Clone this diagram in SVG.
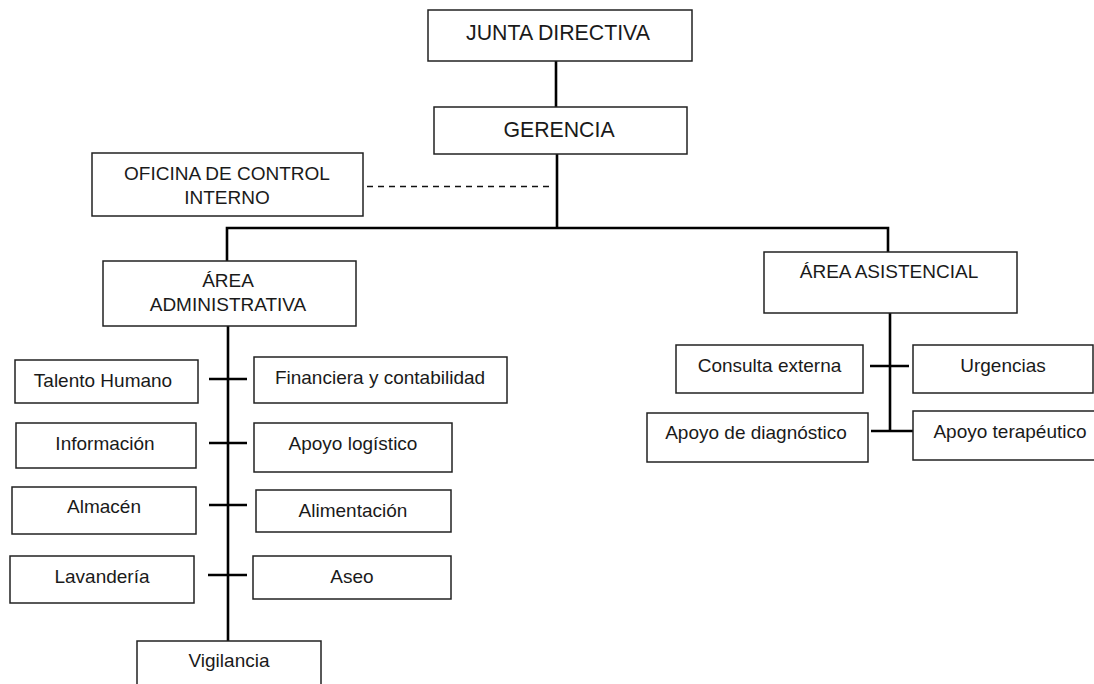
<svg xmlns="http://www.w3.org/2000/svg" width="1094" height="684" viewBox="0 0 1094 684">
<style>
.box{fill:#fff;stroke:#222;stroke-width:1.5}
.t{font-family:"Liberation Sans",Arial,sans-serif;font-size:19px;fill:#1a1a1a;text-anchor:middle}
.big{font-size:21.3px}
.c{stroke:#000;stroke-width:2.6;fill:none}
.d{stroke:#111;stroke-width:1.4;stroke-dasharray:6 5;fill:none}
</style>
<rect width="1094" height="684" fill="#fff"/>
<g id="connectors">
<line class="c" x1="556" y1="61" x2="556" y2="107"/>
<polyline class="c" points="227,261 227,228 888,228 888,252"/>
<line class="c" x1="557" y1="154" x2="557" y2="228"/>
<line class="d" x1="367" y1="186.5" x2="552" y2="186.5"/>
<line class="c" x1="228" y1="326" x2="228" y2="641"/>
<line class="c" x1="209" y1="379" x2="247" y2="379"/>
<line class="c" x1="209" y1="443" x2="247" y2="443"/>
<line class="c" x1="209" y1="505" x2="247" y2="505"/>
<line class="c" x1="208" y1="575" x2="247" y2="575"/>
<line class="c" x1="890" y1="313" x2="890" y2="432"/>
<line class="c" x1="870" y1="366" x2="909" y2="366"/>
<line class="c" x1="871" y1="431" x2="913" y2="431"/>
</g>
<g id="junta"><rect class="box" x="428" y="10" width="264" height="51"/><text class="t big" x="558" y="40">JUNTA DIRECTIVA</text></g>
<g id="gerencia"><rect class="box" x="434" y="107" width="253" height="47"/><text class="t big" x="559" y="137">GERENCIA</text></g>
<g id="oficina"><rect class="box" x="92" y="153" width="271" height="63"/><text class="t" x="227" y="180">OFICINA DE CONTROL</text><text class="t" x="227" y="204">INTERNO</text></g>
<g id="admin"><rect class="box" x="103" y="261" width="253" height="65"/><text class="t" x="228" y="287">ÁREA</text><text class="t" x="228" y="311">ADMINISTRATIVA</text></g>
<g id="asistencial"><rect class="box" x="764" y="252" width="253" height="61"/><text class="t" x="889" y="278">ÁREA ASISTENCIAL</text></g>
<g id="talento"><rect class="box" x="15" y="360" width="183" height="43"/><text class="t" x="103" y="387">Talento Humano</text></g>
<g id="financiera"><rect class="box" x="254" y="357" width="253" height="46"/><text class="t" x="380" y="384">Financiera y contabilidad</text></g>
<g id="informacion"><rect class="box" x="16" y="423" width="180" height="45"/><text class="t" x="105" y="450">Información</text></g>
<g id="logistico"><rect class="box" x="254" y="423" width="198" height="49"/><text class="t" x="353" y="450">Apoyo logístico</text></g>
<g id="almacen"><rect class="box" x="12" y="487" width="184" height="47"/><text class="t" x="104" y="513">Almacén</text></g>
<g id="alimentacion"><rect class="box" x="256" y="490" width="195" height="42"/><text class="t" x="353" y="517">Alimentación</text></g>
<g id="lavanderia"><rect class="box" x="10" y="556" width="184" height="47"/><text class="t" x="102" y="583">Lavandería</text></g>
<g id="aseo"><rect class="box" x="253" y="556" width="198" height="43"/><text class="t" x="352" y="583">Aseo</text></g>
<g id="vigilancia"><rect class="box" x="137" y="641" width="184" height="60"/><text class="t" x="229" y="667">Vigilancia</text></g>
<g id="consulta"><rect class="box" x="676" y="345" width="187" height="48"/><text class="t" x="769.5" y="372">Consulta externa</text></g>
<g id="urgencias"><rect class="box" x="913" y="345" width="180" height="48"/><text class="t" x="1003" y="372">Urgencias</text></g>
<g id="diagnostico"><rect class="box" x="647" y="413" width="221" height="49"/><text class="t" x="756" y="439">Apoyo de diagnóstico</text></g>
<g id="terapeutico"><rect class="box" x="913" y="411" width="190" height="49"/><text class="t" x="1010" y="438">Apoyo terapéutico</text></g>
</svg>
